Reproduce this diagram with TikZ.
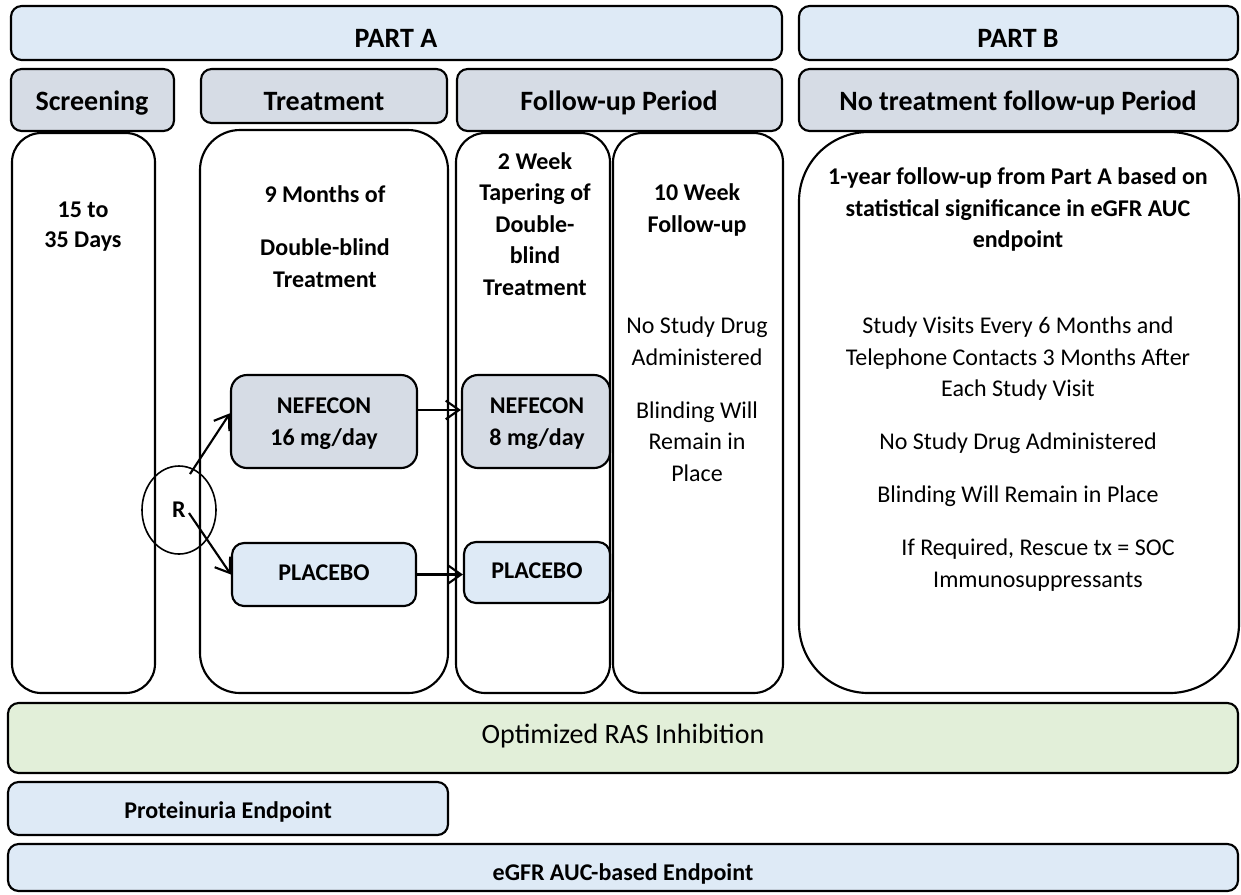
\documentclass[tikz,border=0pt]{standalone}
\usepackage{fontspec}
\setmainfont{Carlito}
\usetikzlibrary{fit,arrows.meta,shapes.geometric}
\definecolor{partblue}{HTML}{DEEAF6}
\definecolor{hdrgray}{HTML}{D6DCE5}
\definecolor{rasgreen}{HTML}{E2EFD9}
\begin{document}
\begin{tikzpicture}[x=0.75pt,y=-0.75pt,
  box/.style={draw=black,line width=1.6pt,inner sep=0pt},
  colbox/.style={box,fill=white},
  tb/.style={inner sep=0pt,anchor=base,font=\fontsize{18}{22}\selectfont\bfseries},
  tr/.style={inner sep=0pt,anchor=base,font=\fontsize{18}{22}\selectfont},
  th/.style={inner sep=0pt,anchor=base,font=\fontsize{21}{25}\selectfont\bfseries},
  arr/.style={line width=1.6pt,-{Straight Barb[length=10pt,width=14pt]}}]
\useasboundingbox (0,0) rectangle (1241,894);

% ---------- column bodies ----------
\node[colbox,rounded corners=22pt,fit={(12,133) (155,693)}] (scrB) {};
\node[colbox,rounded corners=30pt,fit={(200,130) (448,693)}] (trtB) {};
\node[colbox,rounded corners=22pt,fit={(456,133) (610,693)}] (tapB) {};
\node[colbox,rounded corners=22pt,fit={(613,133) (783,693)}] (tenB) {};
\node[colbox,rounded corners=52pt,fit={(799,132) (1239,693)}] (pbB) {};

% ---------- top bars ----------
\node[box,fill=partblue,rounded corners=8pt,fit={(11,6) (782,60)}] (partA) {};
\node[th] (partAt) at (396,47) {PART A};
\node[box,fill=partblue,rounded corners=8pt,fit={(799,6) (1238,60)}] (partB) {};
\node[th] (partBt) at (1018,47) {PART B};

% ---------- header row ----------
\node[box,fill=hdrgray,rounded corners=8pt,fit={(11,69) (174,131)}] (hScr) {};
\node[th] (hScrT) at (92,110) {Screening};
\node[box,fill=hdrgray,rounded corners=8pt,fit={(201,69) (447,123)}] (hTrt) {};
\node[th] (hTrtT) at (324,110) {Treatment};
\node[box,fill=hdrgray,rounded corners=8pt,fit={(457,69) (782,131)}] (hFU) {};
\node[th] (hFUT) at (619,110) {Follow-up Period};
\node[box,fill=hdrgray,rounded corners=8pt,fit={(799,69) (1238,131)}] (hPB) {};
\node[th] (hPBT) at (1018,110) {No treatment follow-up Period};

% ---------- arm boxes ----------
\node[box,fill=hdrgray,rounded corners=12pt,fit={(231,375) (417,468)}] (nef16) {};
\node[box,fill=partblue,rounded corners=9pt,fit={(232,543) (416,606)}] (pla1) {};
\node[box,fill=hdrgray,rounded corners=12pt,fit={(462,375) (610,468)}] (nef8) {};
\node[box,fill=partblue,rounded corners=9pt,fit={(464,542) (610,603)}] (pla2) {};

% ---------- randomisation ----------
\node[draw=black,ellipse,line width=1.2pt,minimum width=55.5pt,minimum height=66pt,inner sep=0pt,
      font=\fontsize{18}{22}\selectfont\bfseries] (R) at (179,510) {R};
\coordinate (r1) at (190,474);
\coordinate (r2) at (189,513);
\draw[arr] (r1) -- (nef16.175);
\draw[arr] (r2) -- (pla1.west);
\draw[arr] (nef16.7) -- (nef16.7 -| nef8.west);
\draw[arr] (pla1.east) -- (pla1.east -| pla2.west);

% ---------- texts: screening ----------
\node[tb] (s1) at (83,217) {15 to};
\node[tb] (s2) at (83,247) {35 Days};

% ---------- texts: treatment ----------
\node[tb] (t1) at (325,202) {9 Months of};
\node[tb] (t2) at (325,255) {Double-blind};
\node[tb] (t3) at (325,287) {Treatment};
\node[tb] (n16a) at (324,413) {NEFECON};
\node[tb] (n16b) at (324,445) {16 mg/day};
\node[tb] (p1t) at (324,580) {PLACEBO};

% ---------- texts: tapering ----------
\node[tb] (w1) at (535,169) {2 Week};
\node[tb] (w2) at (535,200) {Tapering of};
\node[tb] (w3) at (535,232) {Double-};
\node[tb] (w4) at (535,263) {blind};
\node[tb] (w5) at (535,295) {Treatment};
\node[tb] (n8a) at (537,413) {NEFECON};
\node[tb] (n8b) at (537,445) {8 mg/day};
\node[tb] (p2t) at (537,578) {PLACEBO};

% ---------- texts: 10 week ----------
\node[tb] (f1) at (697,200) {10 Week};
\node[tb] (f2) at (697,232) {Follow-up};
\node[tr] (f3) at (697,333) {No Study Drug};
\node[tr] (f4) at (697,365) {Administered};
\node[tr] (f5) at (697,418) {Blinding Will};
\node[tr] (f6) at (697,449) {Remain in};
\node[tr] (f7) at (697,481) {Place};

% ---------- texts: part B ----------
\node[tb] (b1) at (1018,184) {1-year follow-up from Part A based on};
\node[tb] (b2) at (1018,216) {statistical significance in eGFR AUC};
\node[tb] (b3) at (1018,247) {endpoint};
\node[tr] (b4) at (1018,333) {Study Visits Every 6 Months and};
\node[tr] (b5) at (1018,365) {Telephone Contacts 3 Months After};
\node[tr] (b6) at (1018,396) {Each Study Visit};
\node[tr] (b7) at (1018,449) {No Study Drug Administered};
\node[tr] (b8) at (1018,502) {Blinding Will Remain in Place};
\node[tr] (b9) at (1038,555) {If Required, Rescue tx = SOC};
\node[tr] (b10) at (1038,587) {Immunosuppressants};

% ---------- bottom bars ----------
\node[box,fill=rasgreen,rounded corners=8pt,fit={(8,703) (1238,773)}] (ras) {};
\node[inner sep=0pt,anchor=base,font=\fontsize{21}{25}\selectfont] (rasT) at (623,743) {Optimized RAS Inhibition};
\node[box,fill=partblue,rounded corners=8pt,fit={(8,782) (448,835)}] (prot) {};
\node[tb] (protT) at (228,818) {Proteinuria Endpoint};
\node[box,fill=partblue,rounded corners=8pt,fit={(8,844) (1238,891)}] (egfr) {};
\node[tb] (egfrT) at (623,880) {eGFR AUC-based Endpoint};
\end{tikzpicture}
\end{document}
